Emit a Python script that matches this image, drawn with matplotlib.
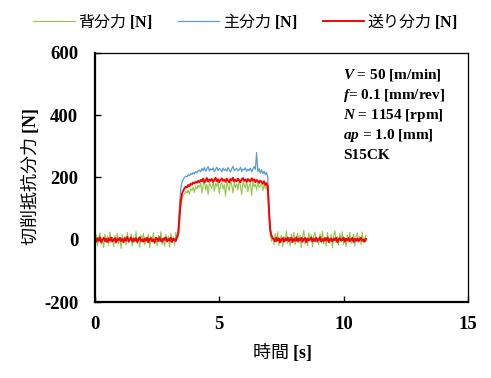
#!/usr/bin/env python3
"""Cutting force components vs time (S15CK turning)."""

import numpy as np
import matplotlib
matplotlib.use("Agg")
import matplotlib.pyplot as plt

plt.rcParams["font.family"] = ["Noto Sans CJK JP", "DejaVu Sans"]
plt.rcParams["axes.unicode_minus"] = False
plt.rcParams["mathtext.fontset"] = "custom"
plt.rcParams["mathtext.rm"] = "Liberation Serif:bold"
plt.rcParams["mathtext.bf"] = "Liberation Serif:bold"
plt.rcParams["mathtext.it"] = "Liberation Serif:italic:bold"

DT = 0.05  # sample spacing [s]

# 背分力 (thrust force) [N]
back_force = [
    -12, 15, -20, 8, 22, -15, 3, -25, 18, -6, 12, -18, 25, -9, 5, -22, 14, -3, 20, -14,
    7, -28, 16, -5, 10, -17, 24, -11, 2, 19, -20, 9, -7, 27, -13, 4, -24, 15, -2, 21,
    -16, 6, -10, 18, -26, 11, -4, 23, -12, 8, -19, 14, -6, 26, -15, 3, -21, 17, -8, 12,
    -23, 20, -3, 9, -18, 24, 5,
    10,
    60, 108, 132, 142, 148, 155, 150, 160, 146, 165, 158, 170, 152, 172, 163, 175,
    168, 182, 150, 176, 190, 160, 178, 145, 185, 172,
    165, 188, 155, 180, 170, 195, 148, 176, 184, 162,
    178, 140, 186, 170, 158, 192, 175, 150, 183, 168,
    180, 160, 194, 172, 145, 185, 176, 166, 190, 155,
    175, 182, 142, 188, 170, 178, 160, 186, 168, 174,
    180, 158, 176, 165, 172,
    150, 70, 20, -5, 12,
    -15, 20, -8, 26, -18, 5, 14, -22, 10, -4, 28, -12, 7, -20, 18, -6, 24, -16, 3, 21,
    -10, 15, -25, 9, 30, -14, 6, -19, 22, -2, 16, -23, 11, 25, -9, 4, -17, 19, -5, 27,
    -13, 8, -21, 23, 1, -11, 17, -26, 13, 29, -7, 10, -18, 20, -3, 26, -15, 6, -22, 15,
    -8, 24, -12, 3, 18, -20, 9, 22, -6, 12, -16, 25, -10, 5, 14,
]

# 主分力 (principal force) [N]
main_force = [
    -3, 4, -7, 2, 6, -5, 0, 8, -2, -8, 3, 5, -6, 1, 7, -4, 2, -7, 5, 0,
    -3, 6, -5, 3, 8, -6, -1, 4, -4, 7, 1, -8, 5, -2, 3, -5, 6, 0, -7, 4,
    2, -3, 7, -6, 1, 5, -4, 3, -8, 6, 0, -2, 5, -6, 4, -1, 8, -5, 2, -3,
    6, -7, 1, 4, -4, 7, 10,
    35,
    110, 165, 185, 195, 200, 204, 202, 209, 206, 213, 210, 216, 212, 219, 215, 221,
    224, 218, 229, 222, 232, 220, 227, 235, 221, 228,
    224, 231, 219, 226, 233, 222, 229, 225, 218, 230,
    223, 227, 220, 232, 224, 218, 228, 236, 222, 226,
    229, 221, 225, 233, 219, 227, 224, 231, 220, 226,
    222, 230, 218, 227, 235, 226, 280, 219, 228, 214,
    225, 212, 220, 209, 216,
    200, 100, 35, 14, 6,
    -4, 6, -2, 5, -7, 3, 0, -5, 8, -3, 2, -6, 4, 7, -8, 1, -2, 6, -4, 3,
    5, -7, 0, 4, -3, 8, -5, 2, -1, 6, -6, 3, 7, -4, 1, -8, 5, -2, 4, 0,
    -5, 7, -3, 2, 6, -6, 1, -4, 8, -2, 3, -7, 5, 0, -3, 6, -5, 4, -1, 2,
    7, -6, 3, -4, 5, -1, -7, 4, 2, -3, 6, -5, 1, 3, -2,
]

# 送り分力 (feed force) [N]
feed_force = [
    2, -6, 5, -3, 8, -8, 1, 6, -4, 3, -7, 4, -2, 7, -5, 0, 5, -9, 3, -1,
    6, -4, 2, -8, 4, -2, 9, -5, 1, 7, -6, 3, -3, 5, -7, 2, 8, -4, 0, -6,
    4, -3, 7, -8, 2, 5, -5, 1, -9, 6, 3, -4, 8, -2, -6, 4, 0, 7, -5, 2,
    -3, 6, -7, 3, 1, -4, 8,
    20,
    75, 125, 148, 158, 165, 170, 168, 176, 172, 180, 177, 184, 181, 186, 183, 189,
    185, 192, 188, 196, 184, 190, 198, 187, 193, 189,
    195, 186, 191, 199, 188, 194, 185, 192, 197, 189,
    193, 186, 196, 190, 184, 195, 191, 199, 187, 192,
    188, 196, 190, 185, 194, 198, 189, 193, 186, 195,
    191, 187, 197, 190, 194, 185, 192, 188, 183, 190,
    186, 180, 188, 176, 182,
    170, 90, 30, 12, 5,
    2, -5, 6, -3, 4, -8, 1, 5, -6, 3, -2, 7, -4, 0, 6, -7, 2, -3, 8, -5,
    3, -1, 6, -6, 2, 5, -8, 4, -2, 1, 7, -5, 3, -4, 6, -3, 0, 8, -6, 2,
    -4, 5, -2, 7, -7, 1, 4, -5, 3, -1, 6, -8, 2, 5, -3, 0, 7, -6, 3, -2,
    5, -4, 1, 6, -7, 3, -2, 4, -5, 2, 6, -3, 0, -6, 3,
]

series = [
    (back_force, "背分力 $\\mathbf{[N]}$", "#92C84A", 0.8),
    (main_force, "主分力 $\\mathbf{[N]}$", "#5B9BD5", 0.9),
    (feed_force, "送り分力 $\\mathbf{[N]}$", "#FF0000", 1.4),
]

conditions = [
    ("$\\mathit{V}$", " = 50 [m/min]"),
    ("$\\mathit{f}$", "= 0.1 [mm/rev]"),
    ("$\\mathit{N}$", " = 1154 [rpm]"),
    ("$\\mathit{ap}$", " = 1.0 [mm]"),
    ("", "S15CK"),
]

fig = plt.figure(figsize=(4.91, 3.78), dpi=100)
ax = fig.add_axes([0.1935, 0.201, 0.7595, 0.659])

for vals, label, color, lw in series:
    t = np.arange(len(vals)) * DT
    ax.plot(t, vals, color=color, linewidth=lw, label=label)

ax.set_xlim(0, 15)
ax.set_ylim(-200, 600)
ax.set_xticks([0, 5, 10, 15])
ax.set_yticks([-200, 0, 200, 400, 600])
ax.tick_params(direction="in", length=4, width=1)
ax.tick_params(axis="y", pad=12)
ax.tick_params(axis="x", pad=10)
for lab in ax.get_xticklabels() + ax.get_yticklabels():
    lab.set_family("Liberation Serif")
    lab.set_fontweight("bold")
    lab.set_fontsize(13.5)
for side in ("left", "bottom"):
    ax.spines[side].set_linewidth(1.6)
for side in ("top", "right"):
    ax.spines[side].set_linewidth(0.9)

ax.set_xlabel("時間 $\\mathbf{[s]}$", fontsize=13, labelpad=6)
ax.set_ylabel("切削抵抗分力 $\\mathbf{[N]}$", fontsize=13, labelpad=2)

# cutting conditions
for i, (sym, rest) in enumerate(conditions):
    txt = sym + rest
    ax.text(0.665, 0.91 - i * 0.08, txt, transform=ax.transAxes,
            family="Liberation Serif", fontweight="bold", fontsize=11,
            va="center", ha="left")

fig.legend(loc="upper center", bbox_to_anchor=(0.5, 1.01), ncol=3,
           frameon=False, fontsize=11.5, handlelength=2.6, columnspacing=1.6,
           handletextpad=0.2)

fig.savefig("out.png", dpi=100)
